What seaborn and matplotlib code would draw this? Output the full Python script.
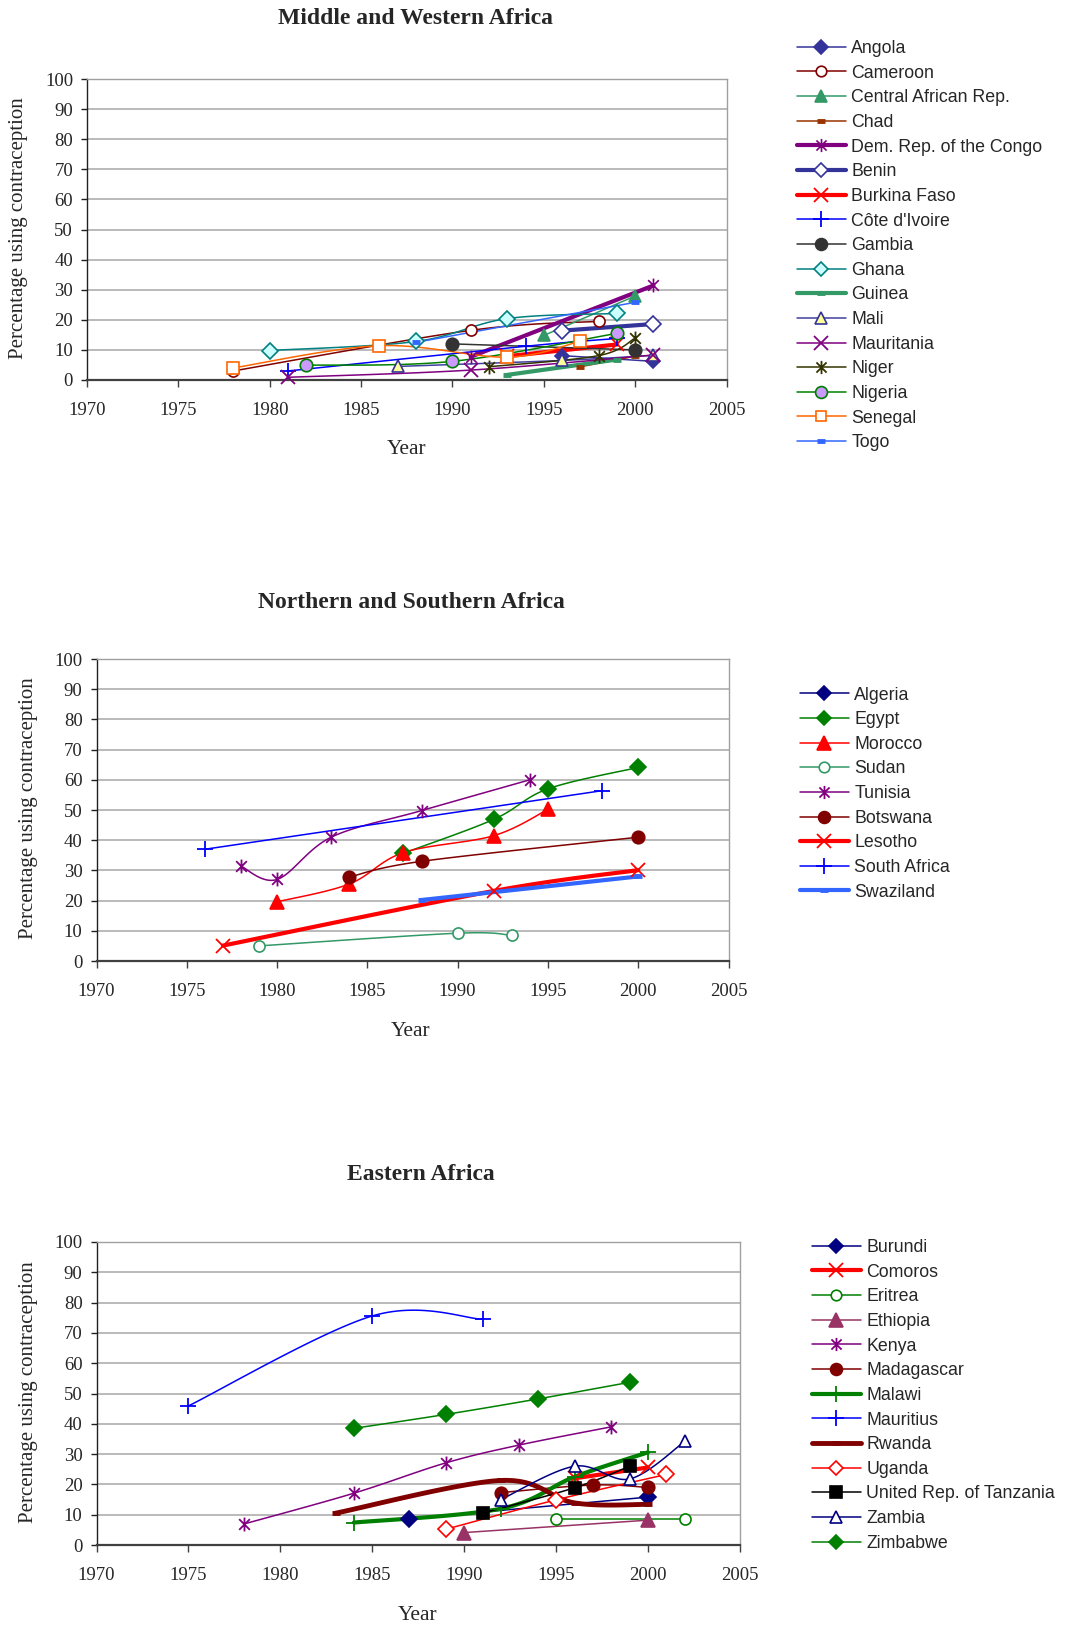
import numpy as np
import matplotlib
matplotlib.use("Agg")
import matplotlib.pyplot as plt
import seaborn as sns
from matplotlib.path import Path
from matplotlib.lines import Line2D

sns.set_theme(style="white")
plt.rcParams['font.family'] = ['Liberation Serif', 'DejaVu Serif']

# ---------------- DATA ----------------
# Middle and Western Africa
mw_countries = ["Angola", "Cameroon", "Central African Rep.", "Chad", "Dem. Rep. of the Congo",
                "Benin", "Burkina Faso", "Côte d'Ivoire", "Gambia", "Ghana", "Guinea", "Mali",
                "Mauritania", "Niger", "Nigeria", "Senegal", "Togo"]
mw_years = [[1996, 2001], [1978, 1991, 1998], [1995, 2000], [1997, 2000], [1991, 2001],
            [1996, 2001], [1993, 1999], [1981, 1994, 1999], [1990, 2000], [1980, 1988, 1993, 1999],
            [1993, 1999], [1987, 1996, 2001], [1981, 1991, 2001], [1992, 1998, 2000],
            [1982, 1990, 1999], [1978, 1986, 1993, 1997], [1988, 2000]]
mw_values = [[8.1, 6.2], [3.0, 16.5, 19.5], [14.8, 27.9], [4.4, 7.9], [7.7, 31.4],
             [16.4, 18.6], [7.9, 11.8], [3.0, 11.2, 13.8], [12.0, 10.0], [9.8, 12.8, 20.4, 22.1],
             [1.7, 6.8], [4.5, 6.5, 8.2], [0.9, 3.3, 8.3], [4.4, 8.1, 13.9],
             [4.9, 6.2, 15.5], [4.0, 11.4, 7.6, 12.9], [12.5, 25.8]]

# Northern and Southern Africa
ns_countries = ["Algeria", "Egypt", "Morocco", "Sudan", "Tunisia", "Botswana", "Lesotho",
                "South Africa", "Swaziland"]
ns_years = [[], [1987, 1992, 1995, 2000], [1980, 1984, 1987, 1992, 1995], [1979, 1990, 1993],
            [1978, 1980, 1983, 1988, 1994], [1984, 1988, 2000], [1977, 1992, 2000],
            [1976, 1998], [1988, 2000]]
ns_values = [[], [35.7, 46.9, 57.0, 64.1], [19.6, 25.5, 35.9, 41.5, 50.2], [5.0, 9.2, 8.5],
             [31.4, 27.0, 41.0, 49.8, 60.0], [27.8, 33.0, 41.0], [5.1, 23.2, 30.1],
             [37.0, 56.4], [20.2, 28.0]]

# Eastern Africa
ea_countries = ["Burundi", "Comoros", "Eritrea", "Ethiopia", "Kenya", "Madagascar", "Malawi",
                "Mauritius", "Rwanda", "Uganda", "United Rep. of Tanzania", "Zambia", "Zimbabwe"]
ea_years = [[1987, 2000], [1996, 2000], [1995, 2002], [1990, 2000], [1978, 1984, 1989, 1993, 1998],
            [1992, 1997, 2000], [1984, 1992, 1996, 2000], [1975, 1985, 1991],
            [1983, 1992, 1996, 2000], [1989, 1995, 2001], [1991, 1996, 1999],
            [1992, 1996, 1999, 2002], [1984, 1989, 1994, 1999]]
ea_values = [[8.7, 15.8], [22.0, 25.6], [8.5, 8.5], [4.1, 8.2], [6.9, 17.1, 27.1, 33.0, 39.0],
             [17.3, 19.8, 19.0], [7.4, 12.0, 22.5, 30.6], [45.9, 75.6, 74.5],
             [10.5, 21.3, 13.9, 13.4], [5.2, 14.9, 23.3], [10.5, 18.9, 26.0],
             [15.0, 26.0, 21.8, 34.2], [38.5, 43.1, 48.2, 53.7]]

# ---------------- STYLES ----------------
AST = Path([(-1, -1), (1, 1), (-1, 1), (1, -1), (0, -1.3), (0, 1.3)],
           [Path.MOVETO, Path.LINETO, Path.MOVETO, Path.LINETO, Path.MOVETO, Path.LINETO])


def st(color, marker, ms=8, mfc=None, mec=None, lw=1.1, mew=1.2, ls='-'):
    return dict(color=color, marker=marker, ms=ms, mfc=mfc if mfc else color,
                mec=mec if mec else color, lw=lw, mew=mew, ls=ls)


mw_styles = [
    st('#333399', 'D', 7),
    st('#800000', 'o', 8, mfc='white'),
    st('#339966', '^', 9),
    st('#993300', '_', 6, mew=3.5),
    st('#800080', AST, 10, lw=3.0, mew=1.2),
    st('#333399', 'D', 8, mfc='white', lw=3.0),
    st('#FF0000', 'x', 10, lw=3.0, mew=1.3),
    st('#0000FF', '+', 12, mew=1.3),
    st('#333333', 'o', 9),
    st('#008080', 'D', 8, mfc='#CCFFFF'),
    st('#339966', '_', 6, lw=3.0, mew=3.5),
    st('#4040A0', '^', 9, mfc='#FFFF99', mec='#333399'),
    st('#800080', 'x', 10, mew=1.3),
    st('#333300', AST, 10, mew=1.3),
    st('#008000', 'o', 9, mfc='#CC99FF'),
    st('#FF6600', 's', 8, mfc='white'),
    st('#3366FF', '_', 6, mew=3.5),
]
ns_styles = [
    st('#000080', 'D', 8),
    st('#008000', 'D', 8),
    st('#FF0000', '^', 10),
    st('#339966', 'o', 8, mfc='white'),
    st('#800080', AST, 10, mew=1.3),
    st('#800000', 'o', 9),
    st('#FF0000', 'x', 10, lw=3.0, mew=1.3),
    st('#0000FF', '+', 12, mew=1.3),
    st('#3366FF', '_', 6, lw=3.0, mew=3.5),
]
ea_styles = [
    st('#000080', 'D', 8),
    st('#FF0000', 'x', 10, lw=3.0, mew=1.3),
    st('#008000', 'o', 8, mfc='white'),
    st('#993366', '^', 10),
    st('#800080', AST, 10, mew=1.3),
    st('#800000', 'o', 9),
    st('#008000', '+', 12, lw=3.0, mew=1.3),
    st('#0000FF', '+', 12, mew=1.3),
    st('#800000', '_', 6, lw=3.5, mew=3.5),
    st('#FF0000', 'D', 8, mfc='white'),
    st('#000000', 's', 9),
    st('#000080', '^', 9, mfc='white'),
    st('#008000', 'D', 8),
]


def smooth(xs, ys, k=6.0, n=30):
    """Excel-style smoothed line (cubic Bezier through the data points)."""
    if len(xs) < 3:
        return np.asarray(xs, float), np.asarray(ys, float)
    P = np.column_stack([np.asarray(xs, float) * k, np.asarray(ys, float)])
    out = [P[0]]
    t = np.linspace(0, 1, n)[1:, None]
    for i in range(len(P) - 1):
        p0 = P[i - 1] if i > 0 else P[i]
        p1, p2 = P[i], P[i + 1]
        p3 = P[i + 2] if i + 2 < len(P) else P[i + 1]
        c1 = p1 + (p2 - p0) / 6.0
        c2 = p2 - (p3 - p1) / 6.0
        seg = (1 - t) ** 3 * p1 + 3 * (1 - t) ** 2 * t * c1 + 3 * (1 - t) * t ** 2 * c2 + t ** 3 * p2
        out.extend(seg)
    out = np.array(out)
    return out[:, 0] / k, out[:, 1]


W, H = 1072, 1627
fig = plt.figure(figsize=(W / 100, H / 100), dpi=100)


def px_axes(l, r, t, b):
    return fig.add_axes([l / W, 1 - b / H, (r - l) / W, (b - t) / H])


def draw_panel(ax, names, years, values, styles, title, title_xy, ylab_xy, xlab_xy, leg_xy):
    for yrs, vals, s in zip(years, values, styles):
        if len(yrs) == 0:
            continue
        sx, sy = smooth(yrs, vals)
        sns.lineplot(x=sx, y=sy, ax=ax, color=s['color'], lw=s['lw'], sort=False,
                     estimator=None, linestyle=s['ls'])
        ax.plot(yrs, vals, linestyle='none', marker=s['marker'], ms=s['ms'], mfc=s['mfc'],
                mec=s['mec'], mew=s['mew'], clip_on=False, zorder=3)
    ax.set_xlim(1970, 2005)
    ax.set_ylim(0, 100)
    ax.set_xticks(range(1970, 2006, 5))
    ax.set_yticks(range(0, 101, 10))
    ax.set_xlabel('')
    ax.set_ylabel('')
    ax.grid(axis='y', color='#B4B4B4', lw=1.3)
    ax.grid(axis='x', visible=False)
    ax.set_axisbelow(True)
    for side in ['top', 'right']:
        ax.spines[side].set_color('#A0A0A0')
        ax.spines[side].set_linewidth(1.0)
        ax.spines[side].set_visible(True)
    ax.spines['left'].set_color('#202020')
    ax.spines['left'].set_linewidth(1.0)
    ax.spines['bottom'].set_color('#404040')
    ax.spines['bottom'].set_linewidth(1.6)
    ax.tick_params(axis='x', direction='out', length=5, width=1, pad=11, labelsize=13.5,
                   bottom=True, color='#404040')
    ax.tick_params(axis='y', direction='out', length=4, width=1, pad=6, labelsize=13.5,
                   left=True, color='#202020')
    for lab in ax.get_xticklabels() + ax.get_yticklabels():
        lab.set_fontfamily('Liberation Serif')
    fig.text(title_xy[0] / W, 1 - title_xy[1] / H, title, ha='center', va='center',
             fontsize=17, fontweight='bold', family='Liberation Serif')
    fig.text(ylab_xy[0] / W, 1 - ylab_xy[1] / H, 'Percentage using contraception',
             rotation=90, ha='center', va='center', fontsize=15, family='Liberation Serif')
    fig.text(xlab_xy[0] / W, 1 - xlab_xy[1] / H, 'Year', ha='center', va='center',
             fontsize=15.5, family='Liberation Serif')
    handles = [Line2D([], [], color=s['color'], lw=s['lw'], marker=s['marker'],
                      ms=s['ms'] * 0.95, mfc=s['mfc'], mec=s['mec'], mew=s['mew'])
               for s in styles]
    fig.legend(handles, names, loc='upper left',
               bbox_to_anchor=(leg_xy[0] / W, 1 - leg_xy[1] / H),
               bbox_transform=fig.transFigure, frameon=False, borderpad=0,
               borderaxespad=0, labelspacing=0.43, handlelength=2.75, handletextpad=0.3,
               prop={'family': 'Liberation Sans', 'size': 12.8})


ax1 = px_axes(87, 726.5, 79, 380)
draw_panel(ax1, mw_countries, mw_years, mw_values, mw_styles, 'Middle and Western Africa',
           (415, 18), (19, 228), (407, 450), (797, 40))

ax2 = px_axes(96.5, 728.5, 659, 961)
draw_panel(ax2, ns_countries, ns_years, ns_values, ns_styles, 'Northern and Southern Africa',
           (411, 602), (29, 808), (411, 1031), (800, 686.5))

ax3 = px_axes(96.5, 740, 1242, 1545)
draw_panel(ax3, ea_countries, ea_years, ea_values, ea_styles, 'Eastern Africa',
           (421, 1175), (29, 1392), (418, 1615), (812, 1239))

fig.savefig('out.png', dpi=100, facecolor='white')
